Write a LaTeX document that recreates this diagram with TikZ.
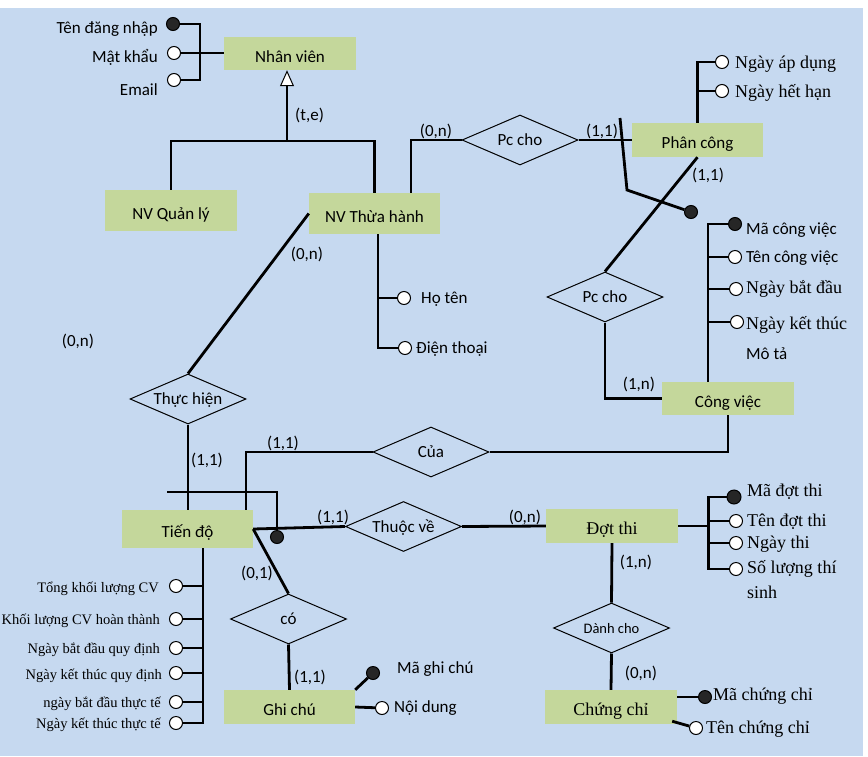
\documentclass[tikz,border=0pt]{standalone}
\usepackage{fontspec}
\setmainfont{Carlito}
\newfontfamily\vnserif{Liberation Serif}
\usetikzlibrary{shapes.geometric}
\usetikzlibrary{arrows.meta}
\definecolor{bgblue}{RGB}{198,217,240}
\definecolor{entgreen}{RGB}{196,215,155}
\definecolor{keygray}{RGB}{38,38,38}

\begin{document}
\begin{tikzpicture}[x=1pt, y=-1pt, font=\fontsize{17}{20}\selectfont]
    \useasboundingbox (0,0) rectangle (868,756);
    \fill [bgblue] (0,8) rectangle (863,756);
    \tikzstyle {entity} = [shape=rectangle, fill=entgreen, minimum width=132pt, minimum height=34pt, inner sep=0pt, text height=19pt, text depth=2pt];
    \tikzstyle {serifent} = [entity, font=\fontsize{18}{20}\selectfont\vnserif];
    \tikzstyle {relation} = [shape=diamond, draw=black, line width=1pt, aspect=2.32, minimum width=116pt, minimum height=50pt, inner sep=0pt, text height=14pt, text depth=3pt];
    \tikzstyle {attr} = [shape=circle, draw=black, fill=white, line width=1pt, minimum size=13pt, inner sep=0pt];
    \tikzstyle {keyattr} = [attr, fill=keygray];
    \tikzstyle {txt} = [inner sep=0pt, text height=14pt, text depth=3pt];
    \tikzstyle {serif} = [txt, font=\fontsize{18}{20}\selectfont\vnserif];
    \tikzstyle {small} = [txt, text height=12pt, font=\fontsize{14.5}{16}\selectfont\vnserif];
    \tikzstyle {link} = [line width=2.8pt];
    %% Nhân viên and subtypes
    \node (nv) [entity, minimum height=33pt] at (290,53.5) {Nhân viên};
    \node (nvql) [entity, minimum height=41pt] at (171,210.5) {NV Quản lý};
    \node (nvth) [entity, minimum width=131pt, minimum height=41pt] at (374.5,213.5) {NV Thừa hành};
    \node (tdn) [keyattr] at (173,24) {};
    \node (mk) [attr] at (174,53) {};
    \node (em) [attr] at (174,80) {};
    \node (ltdn) [txt, anchor=east] at (158,28) {Tên đăng nhập};
    \node (lmk) [txt, anchor=east] at (158,57) {Mật khẩu};
    \node (lem) [txt, anchor=east] at (158,90) {Email};
    \draw [link] (tdn) -- ++(27,0) |- (em);
    \draw [link] (mk) -- (mk -| nv.west);
    \coordinate (isa) at (287,141);
    \draw [link] (nvql.north) |- (isa) -| (nvth.north);
    \draw [link, -{Triangle[length=16pt, width=14pt, fill=white, line width=1pt]}] (isa) -- (isa |- nv.south);
    \node (lte) [txt, anchor=west] at (295,115) {(t,e)};
    %% NV Thừa hành attributes
    \coordinate (nvbar) at ([xshift=3.5pt]nvth.south);
    \node (ht) [attr] at (404,298) {};
    \node (dth) [attr] at (405,348) {};
    \node (lht) [txt, anchor=west] at (421,298) {Họ tên};
    \node (ldth) [txt, anchor=west] at (416,348) {Điện thoại};
    \draw [link] (nvbar) |- (dth);
    \draw [link] (ht) -- (ht -| nvbar);
    %% Pc cho: NV Thừa hành - Phân công
    \node (pcc1) [relation] at (520,140) {Pc cho};
    \node (pc) [entity, minimum width=131pt] at (697.5,140) {Phân công};
    \draw [link] ([xshift=36.5pt]nvth.north) |- (pcc1.west);
    \draw [link] (pcc1.east) -- (pc.west);
    \node (c1) [txt] at (436,131) {(0,n)};
    \node (c2) [txt] at (602,131) {(1,1)};
    \node (nad) [attr] at (722,62) {};
    \node (nhh) [attr] at (722,91) {};
    \node (lnad) [serif, anchor=west] at (735,63) {Ngày áp dụng};
    \node (lnhh) [serif, anchor=west] at (735,92) {Ngày hết hạn};
    \draw [link] (pc.north) |- (nad);
    \draw [link] (nhh) -- (nhh -| pc.north);
    \coordinate (pcend) at (620,118);
    \node (kpc) [keyattr] at (691,212) {};
    \draw [link] (pcend) -- ++(7,72) -- (kpc);
    %% Pc cho: Phân công - Công việc
    \node (pcc2) [relation] at (605,297) {Pc cho};
    \node (cv) [entity, minimum height=33pt] at (728,398.5) {Công việc};
    \draw [link] (pc.south) -- (pcc2.north);
    \draw [link] (pcc2.south) |- (cv.west);
    \node (c3) [txt] at (708,175) {(1,1)};
    \node (c4) [txt] at (639,384) {(1,n)};
    %% Công việc attributes
    \coordinate (cvbar) at ([xshift=-20pt]cv.north);
    \node (mcv) [keyattr] at (735,224) {};
    \node (tcv) [attr] at (735,257) {};
    \node (nbd) [attr] at (736,289) {};
    \node (nkt) [attr] at (737,322) {};
    \draw [link] (cvbar) |- (mcv);
    \draw [link] (tcv) -- (tcv -| cvbar);
    \draw [link] (nbd) -- (nbd -| cvbar);
    \draw [link] (nkt) -- (nkt -| cvbar);
    \node (lmcv) [txt, anchor=west] at (746,229) {Mã công việc};
    \node (ltcv) [txt, anchor=west] at (746,257) {Tên công việc};
    \node (lnbd) [serif, anchor=west] at (746,288) {Ngày bắt đầu};
    \node (lnkt) [serif, anchor=west] at (746,324) {Ngày kết thúc};
    \node (lmt) [txt, anchor=west] at (746,354) {Mô tả};
    %% Thực hiện: NV Thừa hành - Tiến độ
    \node (th) [relation] at (188,399) {Thực hiện};
    \node (td) [entity, minimum width=131pt, minimum height=38pt] at (187.5,529) {Tiến độ};
    \draw [link] (nvth.west) -- (th.north);
    \draw [link] (th.south) -- (th.south |- td.north);
    \node (c5) [txt] at (307,254) {(0,n)};
    \node (c6) [txt] at (207,460) {(1,1)};
    \node (c7) [txt] at (78,341) {(0,n)};
    %% Của: Tiến độ - Công việc
    \node (cua) [relation] at (431,452) {Của};
    \draw [link] (cv.south) |- (cua.east);
    \draw [link] (cua.west) -| ([xshift=58.5pt]td.north);
    \node (c8) [txt] at (283,443) {(1,1)};
    \coordinate (tdend) at (167,492);
    \node (ktd) [keyattr] at (277,537) {};
    \draw [link] (tdend) -| (ktd);
    %% Tiến độ attributes
    \coordinate (tdbar) at ([xshift=15.5pt]td.south);
    \node (a1) [attr] at (176,586) {};
    \node (a2) [attr] at (176,619) {};
    \node (a3) [attr] at (176,648) {};
    \node (a4) [attr] at (176,673) {};
    \node (a5) [attr] at (176,702) {};
    \node (a6) [attr] at (176,723) {};
    \draw [link] (tdbar) |- (a6);
    \draw [link] (a1) -- (a1 -| tdbar);
    \draw [link] (a2) -- (a2 -| tdbar);
    \draw [link] (a3) -- (a3 -| tdbar);
    \draw [link] (a4) -- (a4 -| tdbar);
    \draw [link] (a5) -- (a5 -| tdbar);
    \node (la1) [small, anchor=east] at (159,588) {Tổng khối lượng CV};
    \node (la2) [small, anchor=east] at (160,620) {Khối lượng CV hoàn thành};
    \node (la3) [small, anchor=east] at (160,649) {Ngày bắt đầu quy định};
    \node (la4) [small, anchor=east] at (162,675) {Ngày kết thúc quy định};
    \node (la5) [small, anchor=east] at (161,703) {ngày bắt đầu thực tế};
    \node (la6) [small, anchor=east] at (161,724) {Ngày kết thúc thực tế};
    %% có: Tiến độ - Ghi chú
    \node (co) [relation] at (288.5,619) {có};
    \node (gc) [entity, minimum width=131pt] at (289.5,707) {Ghi chú};
    \draw [link] (td.east) -- (co.north);
    \draw [link] (co.south) -- (gc.north);
    \node (c9) [txt] at (257,573) {(0,1)};
    \node (c10) [txt] at (310,677) {(1,1)};
    \node (mgc) [keyattr] at (373,673) {};
    \node (nd) [attr] at (382,708) {};
    \draw [link] (gc.north east) -- (mgc);
    \draw [link] (gc.east) -- (nd);
    \node (lmgc) [txt, anchor=west] at (397,668) {Mã ghi chú};
    \node (lnd) [txt, anchor=west] at (394,707) {Nội dung};
    %% Thuộc về: Tiến độ - Đợt thi
    \node (tv) [relation] at (403.5,526.5) {Thuộc về};
    \node (dt) [serifent] at (612,526) {Đợt thi};
    \draw [link] (td.east) -- (tv.west);
    \draw [link] (tv.east) -- (dt.west);
    \node (c11) [txt] at (333,517) {(1,1)};
    \node (c12) [txt] at (525,517) {(0,n)};
    %% Đợt thi attributes
    \node (mdt) [keyattr, minimum size=14pt] at (734,497) {};
    \node (tdt) [attr] at (736,521) {};
    \node (nt) [attr] at (736,543) {};
    \node (sl) [attr] at (736,569) {};
    \draw [link] (dt.east) -- ++(30,0) coordinate (dtbar);
    \draw [link] (mdt) -- (mdt -| dtbar) |- (sl);
    \draw [link] (tdt) -- (tdt -| dtbar);
    \draw [link] (nt) -- (nt -| dtbar);
    \node (lmdt) [serif, anchor=west] at (747,491) {Mã đợt thi};
    \node (ltdt) [serif, anchor=west] at (747,521) {Tên đợt thi};
    \node (lnt) [serif, anchor=west] at (747,543) {Ngày thi};
    \node (lsl) [inner sep=0pt, anchor=north west, align=left, font=\fontsize{18}{25}\selectfont\vnserif] at (747,560) {Số lượng thí\\sinh};
    %% Dành cho: Đợt thi - Chứng chỉ
    \node (dc) [relation, font=\fontsize{14.5}{16}\selectfont] at (611.5,628) {Dành cho};
    \node (cc) [serifent] at (611,707) {Chứng chỉ};
    \draw [link] (dt.south) -- (dc.north);
    \draw [link] (dc.south) -- (cc.north);
    \node (c13) [txt] at (636,562) {(1,n)};
    \node (c14) [txt] at (641,673) {(0,n)};
    \node (mcc) [keyattr] at (705,697) {};
    \node (tcc) [attr] at (696,728) {};
    \draw [link] ([yshift=10pt]cc.east) -- (mcc);
    \draw [link] ([xshift=-5pt,yshift=3pt]cc.south east) -- (tcc);
    \node (lmcc) [serif, anchor=west] at (713,695) {Mã chứng chỉ};
    \node (ltcc) [serif, anchor=west] at (706,728) {Tên chứng chỉ};
\end{tikzpicture}
\end{document}
